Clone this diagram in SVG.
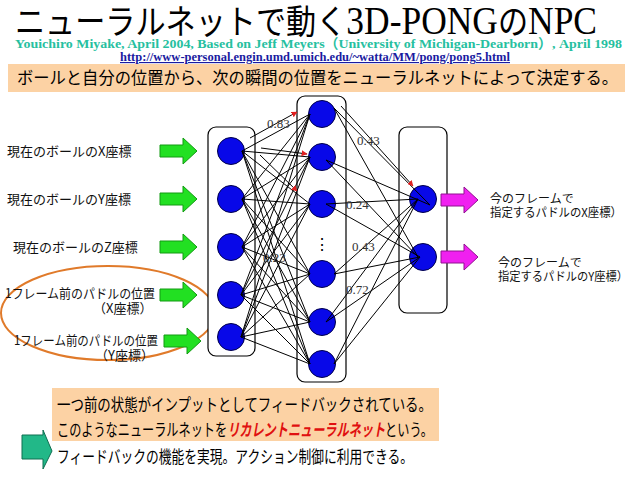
<svg xmlns="http://www.w3.org/2000/svg" width="638" height="479" viewBox="0 0 638 479">
<defs>
<style>
.jp{font-family:"Noto Sans CJK JP","Noto Sans CJK SC",sans-serif;}
.sf{font-family:"Liberation Serif","Noto Sans CJK JP",serif;}
.box{fill:#fff;stroke:#000;stroke-width:1.2;}
.node{fill:#0808e8;stroke:#00004a;stroke-width:1;}
.c line{stroke:#000;stroke-width:1;}
.red{stroke:#e02020;stroke-width:1.6;marker-end:url(#ah);}
.w{font-family:"Liberation Serif",serif;font-size:13px;fill:#333;}
.lab{font-size:13px;fill:#111;}
.out{font-size:12px;fill:#111;}
.ga{fill:#22e022;stroke:#129a12;stroke-width:1;}
.ma{fill:#f020f0;stroke:#901090;stroke-width:1;}
</style>
<marker id="ah" viewBox="0 0 10 10" refX="9" refY="5" markerWidth="6" markerHeight="6" orient="auto"><path d="M0,0 L10,5 L0,10 z" fill="#e02020"/></marker>
<path id="arrow" d="M0,-6 L23,-6 L23,-13 L37,0 L23,13 L23,6 L0,6 z"/>
</defs>
<rect width="638" height="479" fill="#fff"/>

<g id="title">
<text x="15" y="34" font-size="34" textLength="582" lengthAdjust="spacingAndGlyphs"><tspan class="jp">ニューラルネットで動く</tspan><tspan class="sf" font-size="40">3D-PONG</tspan><tspan class="jp">の</tspan><tspan class="sf" font-size="40">NPC</tspan></text>
<text x="15" y="47.5" class="sf" font-size="13.5" font-weight="bold" fill="#26c0a0" textLength="607" lengthAdjust="spacingAndGlyphs">Youichiro Miyake, April 2004, Based on Jeff Meyers（University of Michigan-Dearborn）, April 1998</text>
<text x="120" y="61" class="sf" font-size="11.5" font-weight="bold" fill="#1a1aa0" text-decoration="underline" textLength="390" lengthAdjust="spacingAndGlyphs">http://www-personal.engin.umd.umich.edu/~watta/MM/pong/pong5.html</text>
</g>

<g id="topnote">
<rect x="8" y="64" width="617" height="28" fill="#fcd2a4"/>
<text x="17" y="84" class="jp" font-size="17" fill="#000" textLength="601" lengthAdjust="spacingAndGlyphs">ボールと自分の位置から、次の瞬間の位置をニューラルネットによって決定する。</text>
</g>

<g id="feedback-ellipse">
<ellipse cx="108" cy="313" rx="107" ry="47" fill="none" stroke="#e07a2a" stroke-width="2"/>
</g>

<g id="layer-boxes">
<rect id="input-box" class="box" x="208" y="127" width="47" height="229" rx="8"/>
<rect id="hidden-box" class="box" x="297" y="96" width="49" height="286" rx="8"/>
<rect id="output-box" class="box" x="399" y="127" width="48" height="186" rx="8"/>
</g>

<g id="input-nodes">
<circle id="in1" class="node" cx="231" cy="151" r="13.5"/>
<circle id="in2" class="node" cx="231" cy="199" r="13.5"/>
<circle id="in3" class="node" cx="231" cy="247" r="13.5"/>
<circle id="in4" class="node" cx="231" cy="295" r="13.5"/>
<circle id="in5" class="node" cx="231" cy="337" r="13.5"/>
</g>
<g id="hidden-nodes">
<circle id="h1" class="node" cx="322" cy="114" r="13.5"/>
<circle id="h2" class="node" cx="322" cy="157" r="13.5"/>
<circle id="h3" class="node" cx="322" cy="204" r="13.5"/>
<circle id="h4" class="node" cx="322" cy="274" r="13.5"/>
<circle id="h5" class="node" cx="322" cy="322" r="13.5"/>
<circle id="h6" class="node" cx="322" cy="364" r="13.5"/>
<text x="322" y="250" class="jp" font-size="16" text-anchor="middle" fill="#000">⋮</text>
</g>
<g id="output-nodes">
<circle id="o1" class="node" cx="423" cy="199" r="13.5"/>
<circle id="o2" class="node" cx="423" cy="257" r="13.5"/>
</g>

<g id="connectors" class="c">
<line x1="242" y1="151" x2="310" y2="114"/><line x1="242" y1="151" x2="310" y2="157"/><line x1="242" y1="151" x2="310" y2="204"/><line x1="242" y1="151" x2="310" y2="274"/><line x1="242" y1="151" x2="310" y2="322"/><line x1="242" y1="151" x2="310" y2="364"/>
<line x1="242" y1="199" x2="310" y2="114"/><line x1="242" y1="199" x2="310" y2="157"/><line x1="242" y1="199" x2="310" y2="204"/><line x1="242" y1="199" x2="310" y2="274"/><line x1="242" y1="199" x2="310" y2="322"/><line x1="242" y1="199" x2="310" y2="364"/>
<line x1="242" y1="247" x2="310" y2="114"/><line x1="242" y1="247" x2="310" y2="157"/><line x1="242" y1="247" x2="310" y2="204"/><line x1="242" y1="247" x2="310" y2="274"/><line x1="242" y1="247" x2="310" y2="322"/><line x1="242" y1="247" x2="310" y2="364"/>
<line x1="241" y1="295" x2="310" y2="114"/><line x1="241" y1="295" x2="310" y2="157"/><line x1="241" y1="295" x2="310" y2="204"/><line x1="241" y1="295" x2="310" y2="274"/><line x1="241" y1="295" x2="310" y2="322"/><line x1="241" y1="295" x2="310" y2="364"/>
<line x1="241" y1="337" x2="310" y2="114"/><line x1="241" y1="337" x2="310" y2="157"/><line x1="241" y1="337" x2="310" y2="204"/><line x1="241" y1="337" x2="310" y2="274"/><line x1="241" y1="337" x2="310" y2="322"/><line x1="241" y1="337" x2="310" y2="364"/>
<line x1="334" y1="108" x2="430" y2="205"/><line x1="334" y1="108" x2="418" y2="257"/>
<line x1="326" y1="160" x2="430" y2="205"/><line x1="326" y1="160" x2="418" y2="257"/>
<line x1="326" y1="204" x2="418" y2="199"/><line x1="326" y1="204" x2="420" y2="257"/>
<line x1="334" y1="274" x2="418" y2="199"/><line x1="334" y1="274" x2="420" y2="257"/>
<line x1="326" y1="322" x2="418" y2="199"/><line x1="326" y1="322" x2="420" y2="257"/>
<line x1="334" y1="364" x2="418" y2="199"/><line x1="334" y1="364" x2="420" y2="257"/>
<line class="red" x1="250" y1="138" x2="297" y2="112"/>
<line class="red" x1="261" y1="148" x2="307" y2="154"/>
<line class="red" x1="260" y1="155" x2="297" y2="191"/>
<line class="red" x1="341" y1="106" x2="413" y2="186"/>
</g>

<g id="weights">
<text class="w" x="267" y="128">0.83</text>
<text class="w" x="357" y="145">0.43</text>
<text class="w" x="346" y="209">0.24</text>
<text class="w" x="352" y="251">0.43</text>
<text class="w" x="346" y="294">0.72</text>
<text class="w" x="263" y="262">0.23</text>
</g>

<g id="inputs">
<use href="#arrow" class="ga" x="160" y="151"/>
<use href="#arrow" class="ga" x="160" y="199"/>
<use href="#arrow" class="ga" x="160" y="247"/>
<use href="#arrow" class="ga" x="160" y="295"/>
<use href="#arrow" class="ga" x="164" y="341"/>
<text class="jp lab" x="7" y="156">現在のボールのX座標</text>
<text class="jp lab" x="7" y="204">現在のボールのY座標</text>
<text class="jp lab" x="13" y="252">現在のボールのZ座標</text>
<text class="jp lab" x="5" y="298" font-size="12.5" textLength="150" lengthAdjust="spacingAndGlyphs">1フレーム前のパドルの位置</text>
<text class="jp lab" x="93" y="313" font-size="12.5">（X座標）</text>
<text class="jp lab" x="14" y="345" font-size="12.5" textLength="144" lengthAdjust="spacingAndGlyphs">1フレーム前のパドルの位置</text>
<text class="jp lab" x="95" y="360" font-size="12.5">（Y座標）</text>
</g>

<g id="outputs">
<use href="#arrow" class="ma" x="441" y="200"/>
<use href="#arrow" class="ma" x="441" y="257"/>
<text class="jp out" x="490" y="203">今のフレームで</text>
<text class="jp out" x="490" y="217" textLength="132" lengthAdjust="spacingAndGlyphs">指定するパドルのX座標）</text>
<text class="jp out" x="498" y="267">今のフレームで</text>
<text class="jp out" x="498" y="281" textLength="130" lengthAdjust="spacingAndGlyphs">指定するパドルのY座標）</text>
</g>

<g id="bottom-note">
<rect x="52" y="388" width="387" height="53" fill="#fcd2a4"/>
<text x="57" y="411" class="jp" font-size="17" fill="#000" textLength="375" lengthAdjust="spacingAndGlyphs">一つ前の状態がインプットとしてフィードバックされている。</text>
<text x="57" y="436" class="jp" font-size="17" fill="#000" textLength="376" lengthAdjust="spacingAndGlyphs">このようなニューラルネットを<tspan fill="#e01010" font-weight="bold" font-style="italic">リカレントニューラルネット</tspan>という。</text>
</g>
<g id="bottom-arrow">
<path d="M22,435 L43,435 L43,430 L52,451 L43,469 L43,459 L22,459 z" fill="#22b888" stroke="#0e6e50" stroke-width="1"/>
<text x="57" y="463" class="jp" font-size="17" fill="#000" textLength="356" lengthAdjust="spacingAndGlyphs">フィードバックの機能を実現。アクション制御に利用できる。</text>
</g>
</svg>
